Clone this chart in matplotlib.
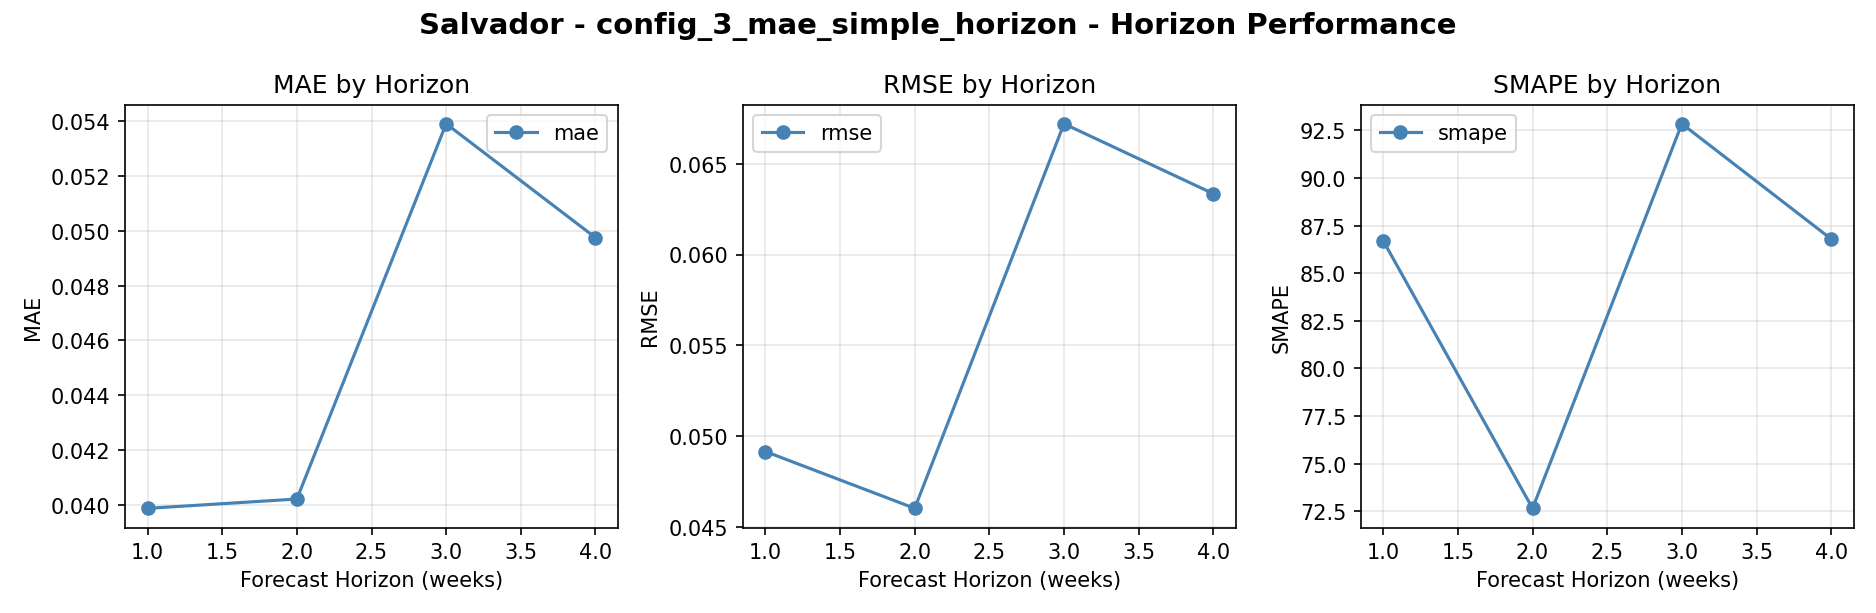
import matplotlib
matplotlib.use("Agg")
import matplotlib.pyplot as plt

horizons = [1.0, 2.0, 3.0, 4.0]
mae = [0.03988, 0.04022, 0.05390, 0.04975]
rmse = [0.04915, 0.04602, 0.06720, 0.06335]
smape = [86.70, 72.65, 92.85, 86.80]

metrics = [("mae", "MAE", mae, "upper right"),
           ("rmse", "RMSE", rmse, "upper left"),
           ("smape", "SMAPE", smape, "upper left")]

fig, axes = plt.subplots(1, 3, figsize=(12.507, 4.093), dpi=150)
for ax, (key, name, vals, loc) in zip(axes, metrics):
    ax.plot(horizons, vals, marker="o", color="steelblue", label=key)
    ax.set_title(f"{name} by Horizon", fontsize=12)
    ax.set_xlabel("Forecast Horizon (weeks)")
    ax.set_ylabel(name)
    ax.grid(True, alpha=0.3)
    ax.legend(loc=loc)
fig.suptitle("Salvador - config_3_mae_simple_horizon - Horizon Performance",
             fontsize=14, fontweight="bold")
fig.tight_layout()
fig.savefig("out.png", dpi=150)
